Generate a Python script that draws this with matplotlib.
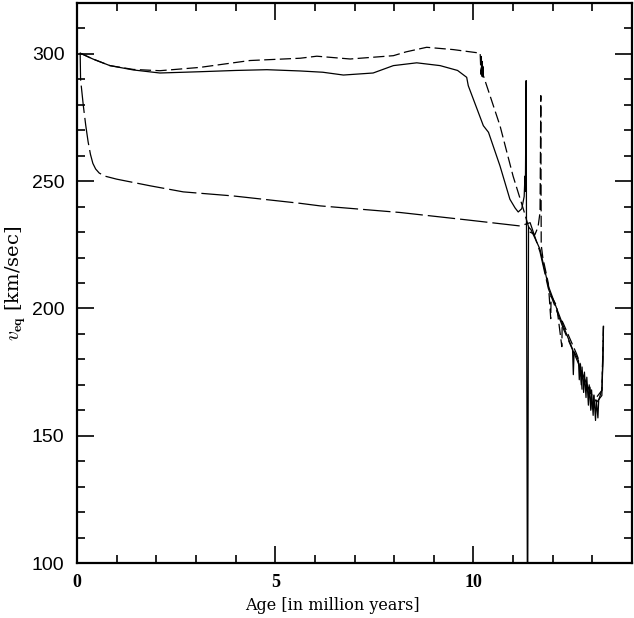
import matplotlib
matplotlib.use("Agg")
import matplotlib.pyplot as plt
from matplotlib.ticker import MultipleLocator

# solid track
solid_age = [0.08, 0.4, 0.83, 1.42, 2.09, 3.1, 4.0, 4.79, 5.63, 6.2, 6.72, 7.47, 7.98,
             8.57, 9.16, 9.6, 9.83, 9.87, 10.1, 10.25, 10.38, 10.67, 10.92, 11.05, 11.13,
             11.22, 11.28, 11.30, 11.31, 11.33, 11.36, 11.37, 11.39, 11.45, 11.6, 11.68,
             11.89, 12.1, 12.27, 12.45, 12.5, 12.52, 12.54, 12.6, 12.65, 12.67, 12.69,
             12.72, 12.74, 12.78, 12.80, 12.84, 12.86, 12.90, 12.92, 12.96, 12.98, 13.02,
             13.04, 13.08, 13.10, 13.14, 13.16, 13.2, 13.24, 13.27, 13.28]
solid_v = [300.3, 298.0, 295.4, 293.7, 292.5, 293.0, 293.5, 293.8, 293.3, 292.8, 291.7,
           292.5, 295.4, 296.5, 295.4, 293.5, 290.8, 287.5, 278.0, 271.8, 269.2, 256.0,
           242.9, 239.5, 237.9, 239.2, 244.0, 252.0, 246.0, 289.5, 90.0, 90.0, 232.0,
           231.0, 226.0, 223.2, 208.8, 200.0, 193.0, 186.0, 184.0, 174.0, 183.0, 181.2,
           179.5, 172.0, 178.0, 170.0, 177.0, 167.0, 175.0, 165.0, 173.0, 162.0, 170.0,
           160.0, 168.0, 158.0, 166.0, 156.0, 164.0, 157.0, 164.0, 166.0, 168.0, 180.0,
           193.0]

# short-dashed track
upper_age = [0.08, 0.4, 0.83, 1.42, 2.09, 3.1, 4.36, 5.63, 6.05, 6.89, 7.98, 8.3, 8.82,
             9.49, 10.17, 10.19, 10.2, 10.21, 10.22, 10.23, 10.24, 10.25, 10.67, 11.0,
             11.26, 11.43, 11.55, 11.63, 11.68, 11.70, 11.71, 11.75, 11.89, 11.95, 11.96,
             12.1, 12.23, 12.24, 12.27, 12.6, 12.7, 12.74, 12.94, 13.0, 13.04, 13.11,
             13.24, 13.28]
upper_v = [300.3, 298.0, 295.4, 293.9, 293.4, 294.7, 297.4, 298.3, 299.1, 298.0, 299.3,
           300.8, 302.6, 301.7, 300.3, 292.0, 299.0, 291.0, 298.0, 291.0, 296.0, 291.5,
           271.8, 252.0, 239.0, 230.0, 229.0, 232.0, 237.8, 283.6, 225.0, 220.0, 209.8,
           196.0, 205.0, 201.0, 185.0, 195.0, 194.0, 182.2, 178.0, 168.0, 169.1, 160.0,
           166.0, 165.2, 167.8, 193.0]

# long-dashed track
lower_age = [0.08, 0.09, 0.16, 0.22, 0.28, 0.34, 0.40, 0.47, 0.56, 0.70, 1.0, 1.84, 2.68,
             3.94, 5.63, 6.13, 8.15, 9.83, 11.18, 11.43, 11.68, 11.89, 12.27, 12.6, 12.94,
             13.11, 13.24, 13.28]
lower_v = [300.3, 290.0, 279.6, 272.0, 265.5, 260.5, 257.0, 254.8, 253.2, 252.0, 250.8,
           248.2, 245.8, 244.2, 241.3, 240.3, 237.7, 234.8, 232.4, 233.7, 222.2, 207.8,
           192.0, 180.2, 167.1, 163.2, 165.8, 193.0]

plt.rcParams['mathtext.fontset'] = 'cm'

fig = plt.figure(figsize=(6.34, 6.18), dpi=100)
ax = fig.add_axes([77/634, 55/618, 555/634, 560/618])

ax.plot(solid_age, solid_v, color='black', lw=0.9)
ax.plot(upper_age, upper_v, color='black', lw=0.9, dashes=(9, 3.5))
ax.plot(lower_age, lower_v, color='black', lw=0.9, dashes=(22, 4))

ax.set_xlim(0, 14)
ax.set_ylim(100, 320)

ax.xaxis.set_major_locator(MultipleLocator(5))
ax.xaxis.set_minor_locator(MultipleLocator(1))
ax.yaxis.set_major_locator(MultipleLocator(50))
ax.yaxis.set_minor_locator(MultipleLocator(10))
ax.tick_params(which='both', direction='in', top=True, right=True, width=1.2)
ax.tick_params(which='major', length=12)
ax.tick_params(which='minor', length=6)
ax.tick_params(axis='x', pad=8)
ax.tick_params(axis='y', pad=9)
for s in ax.spines.values():
    s.set_linewidth(1.6)

for t in ax.get_yticklabels():
    t.set_fontfamily('Liberation Sans')
    t.set_fontsize(14)
for t in ax.get_xticklabels():
    t.set_fontfamily('Liberation Serif')
    t.set_fontweight('bold')
    t.set_fontsize(13)

ax.set_xlabel('Age [in million years]', family='DejaVu Serif', fontsize=11.5)
ax.xaxis.set_label_coords(0.46, -0.06)
ax.set_ylabel(r'$v_{\mathbf{eq}}$ [km/sec]', family='DejaVu Serif', fontsize=14)
ax.yaxis.set_label_coords(-0.088, 0.5)

fig.savefig('out.png', dpi=100)
